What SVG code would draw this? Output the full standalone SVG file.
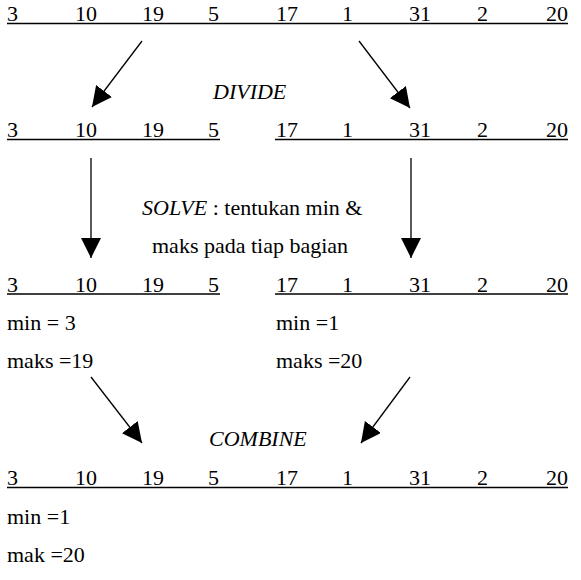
<svg xmlns="http://www.w3.org/2000/svg" width="581" height="580" viewBox="0 0 581 580" font-family="Liberation Serif, Times New Roman, serif" font-size="22">
<style>
.it{font-style:italic}
.end{text-anchor:end}
.ul{stroke:#000;stroke-width:1.5;fill:none}
.ar{stroke:#000;stroke-width:1.3;fill:none;marker-end:url(#ah)}
</style>
<defs>
<marker id="ah" markerUnits="userSpaceOnUse" markerWidth="20" markerHeight="20" refX="20" refY="10" orient="auto" viewBox="0 0 20 20">
<path d="M0,0 L20,10 L0,20 z" fill="#000"/>
</marker>
</defs>
<rect width="581" height="580" fill="#fff"/>
<g id="row1">
<text x="7" y="21">3</text><text x="75" y="21">10</text><text x="142" y="21">19</text><text x="208" y="21">5</text><text x="276" y="21">17</text><text x="342" y="21">1</text><text x="409" y="21">31</text><text x="477" y="21">2</text><text class="end" x="568" y="21">20</text>
<line class="ul" x1="7" y1="23.5" x2="568" y2="23.5"/>
</g>
<g id="divide-label"><text class="it" x="213" y="99">DIVIDE</text></g>
<g id="row2-left">
<text x="7" y="137">3</text><text x="75" y="137">10</text><text x="142" y="137">19</text><text x="208" y="137">5</text>
<line class="ul" x1="7" y1="139.5" x2="220" y2="139.5"/>
</g>
<g id="row2-right">
<text x="276" y="137">17</text><text x="342" y="137">1</text><text x="409" y="137">31</text><text x="477" y="137">2</text><text class="end" x="568" y="137">20</text>
<line class="ul" x1="275" y1="139.5" x2="568" y2="139.5"/>
</g>
<g id="solve-label">
<text x="142" y="215"><tspan class="it">SOLVE</tspan> : tentukan min &amp;</text>
<text x="152" y="253">maks pada tiap bagian</text>
</g>
<g id="row3-left">
<text x="7" y="291.5">3</text><text x="75" y="291.5">10</text><text x="142" y="291.5">19</text><text x="208" y="291.5">5</text>
<line class="ul" x1="7" y1="294" x2="220" y2="294"/>
<text x="7" y="330">min = 3</text>
<text x="7" y="368">maks =19</text>
</g>
<g id="row3-right">
<text x="276" y="291.5">17</text><text x="342" y="291.5">1</text><text x="409" y="291.5">31</text><text x="477" y="291.5">2</text><text class="end" x="568" y="291.5">20</text>
<line class="ul" x1="275" y1="294" x2="568" y2="294"/>
<text x="276" y="330">min =1</text>
<text x="276" y="368">maks =20</text>
</g>
<g id="combine-label"><text class="it" x="209" y="446">COMBINE</text></g>
<g id="row4">
<text x="7" y="485">3</text><text x="75" y="485">10</text><text x="142" y="485">19</text><text x="208" y="485">5</text><text x="276" y="485">17</text><text x="342" y="485">1</text><text x="409" y="485">31</text><text x="477" y="485">2</text><text class="end" x="568" y="485">20</text>
<line class="ul" x1="7" y1="487.5" x2="568" y2="487.5"/>
<text x="7" y="524">min =1</text>
<text x="7" y="562">mak =20</text>
</g>
<g id="connectors">
<line class="ar" x1="142" y1="41" x2="92" y2="107"/>
<line class="ar" x1="359" y1="41" x2="410" y2="108"/>
<line class="ar" x1="91" y1="158" x2="91" y2="258"/>
<line class="ar" x1="411" y1="158" x2="411" y2="258"/>
<line class="ar" x1="91" y1="377" x2="142" y2="443"/>
<line class="ar" x1="410" y1="377" x2="361" y2="443"/>
</g>
</svg>
